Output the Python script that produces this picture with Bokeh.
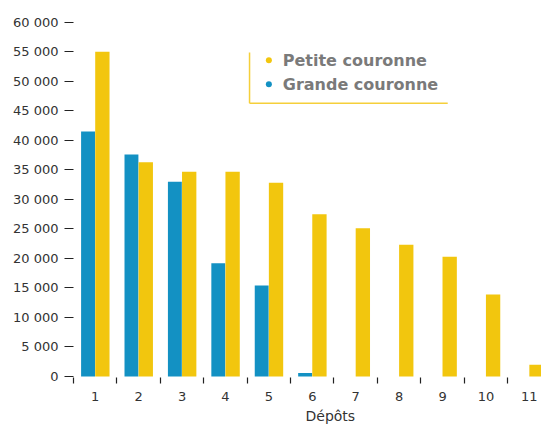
from bokeh.plotting import figure
from bokeh.models import Range1d, FixedTicker, Title, ColumnDataSource
from bokeh.embed import file_html
from bokeh.resources import INLINE
from bokeh.core.properties import value

# ---- data ----
depots = [1, 2, 3, 4, 5, 6, 7, 8, 9, 10, 11]
petite = [55000, 36300, 34700, 34700, 32800, 27500, 25100, 22300, 20300, 13900, 2000]
grande = [41500, 37600, 33000, 19200, 15400, 600, 0, 0, 0, 0, 0]
y_ticks = [0, 5000, 10000, 15000, 20000, 25000, 30000, 35000, 40000, 45000, 50000, 55000, 60000]
y_labels = ["0", "5 000", "10 000", "15 000", "20 000", "25 000", "30 000",
            "35 000", "40 000", "45 000", "50 000", "55 000", "60 000"]
series_names = ["Petite couronne", "Grande couronne"]

YELLOW = "#f2c60e"
BLUE = "#1391c3"
TEXT = "#333333"

p = figure(width=541, height=425, output_backend="svg", toolbar_location=None,
           x_range=Range1d(0.5, 11.28), y_range=Range1d(-170, 62000),
           min_border_left=73, min_border_right=0, min_border_top=10, min_border_bottom=48)
p.outline_line_color = None
p.grid.visible = False
p.background_fill_color = "white"

src = ColumnDataSource(dict(
    xb=[d - 0.165 for d in depots], xy=[d + 0.165 for d in depots],
    grande=grande, petite=petite))
p.vbar(x="xb", top="grande", bottom=0, width=0.32, source=src,
       fill_color=BLUE, line_color=None)
p.vbar(x="xy", top="petite", bottom=0, width=0.33, source=src,
       fill_color=YELLOW, line_color=None)

# y axis
ya = p.yaxis[0]
ya.ticker = FixedTicker(ticks=y_ticks)
ya.major_label_overrides = {t: l for t, l in zip(y_ticks, y_labels)}
ya.axis_line_color = None
ya.major_tick_out = 9
ya.major_tick_in = 0
ya.major_tick_line_color = "#222222"
ya.major_tick_line_width = 1.2
ya.minor_tick_line_color = None
ya.major_label_standoff = 6
ya.major_label_text_font = "DejaVu Sans"
ya.major_label_text_font_size = "13px"
ya.major_label_text_color = TEXT

# x axis
xa = p.xaxis[0]
xa.ticker = FixedTicker(ticks=depots, minor_ticks=[d - 0.5 for d in depots])
xa.axis_line_color = None
xa.major_tick_line_color = None
xa.major_tick_out = 6
xa.major_tick_in = 0
xa.minor_tick_out = 6
xa.minor_tick_in = 0
xa.minor_tick_line_color = "#222222"
xa.minor_tick_line_width = 1.2
xa.major_label_standoff = 8
xa.major_label_text_font = "DejaVu Sans"
xa.major_label_text_font_size = "13px"
xa.major_label_text_color = TEXT

p.add_layout(Title(text="Dépôts", align="left", offset=232, text_font="DejaVu Sans",
                   text_font_size="14px", text_font_style="normal", text_color=TEXT,
                   standoff=4), "below")

# legend (custom, with yellow left and bottom rule)
p.segment(x0=[4.555, 4.555], y0=[54900, 46270], x1=[4.555, 9.12], y1=[46270, 46270],
          line_color="#f5cf3a", line_width=1.5)
p.scatter(x=[5.0, 5.0], y=[53560, 49490], size=6, marker="circle",
          fill_color=[YELLOW, BLUE], line_color=None)
p.text(x=[5.32, 5.32], y=[53560, 49490], text=series_names,
       text_font=value("DejaVu Sans"), text_font_style="bold",
       text_font_size="16px", text_color="#7a7a7a", text_baseline="middle")

open("out.html", "w").write(file_html(p, INLINE))
